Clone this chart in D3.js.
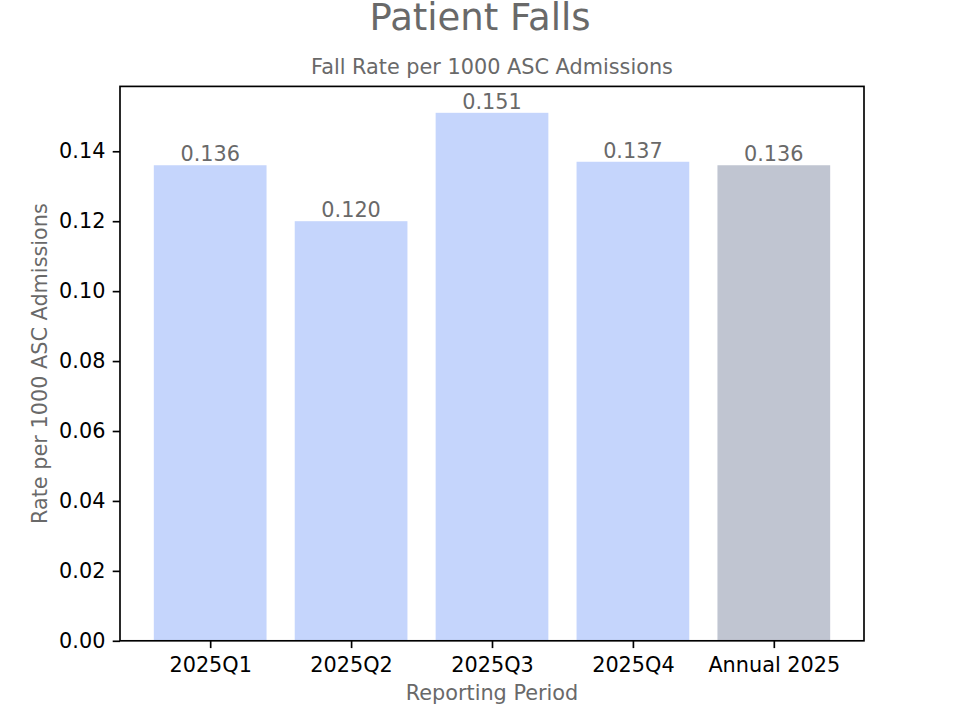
<!DOCTYPE html>
<html>
<head>
<meta charset="utf-8">
<script src="https://cdn.jsdelivr.net/npm/d3@7"></script>
<style>
  body { margin: 0; background: #fff; }
  text { font-family: "DejaVu Sans", sans-serif; }
</style>
</head>
<body>
<script>
// chart values
let periods = ['2025Q1', '2025Q2', '2025Q3', '2025Q4', 'Annual 2025'];
let rates = [0.136, 0.120, 0.151, 0.137, 0.136];
let barLabels = ['0.136', '0.120', '0.151', '0.137', '0.136'];
let yTicks = [0, 0.02, 0.04, 0.06, 0.08, 0.10, 0.12, 0.14];

let width = 960, height = 720;
let margin = { top: 86.4, right: 96, bottom: 79.2, left: 120 };
let quarterColor = '#c5d5fc';
let annualColor = '#c0c5d1';
let grey = '#696969';

let svg = d3.select('body').append('svg')
  .attr('width', width)
  .attr('height', height);

let plotW = width - margin.left - margin.right;
let plotH = height - margin.top - margin.bottom;

// matplotlib style: bars 0.8 wide with 5% margins
let idx = d3.range(periods.length);
let x = d3.scaleLinear()
  .domain([-0.4 - 0.24, periods.length - 1 + 0.4 + 0.24])
  .range([margin.left, margin.left + plotW]);

let y = d3.scaleLinear()
  .domain([0, d3.max(rates) * 1.05])
  .range([margin.top + plotH, margin.top]);

// bars
svg.append('g')
  .selectAll('rect')
  .data(idx)
  .enter()
  .append('rect')
  .attr('x', i => x(i - 0.4))
  .attr('width', i => x(i + 0.4) - x(i - 0.4))
  .attr('y', i => y(rates[i]))
  .attr('height', i => y(0) - y(rates[i]))
  .attr('fill', i => periods[i].startsWith('Annual') ? annualColor : quarterColor);

// value labels
svg.append('g')
  .selectAll('text')
  .data(idx)
  .enter()
  .append('text')
  .attr('x', i => x(i))
  .attr('y', i => y(rates[i]) - 4)
  .attr('text-anchor', 'middle')
  .attr('font-size', 20.8)
  .attr('fill', grey)
  .text(i => barLabels[i]);

// y axis
let yAxis = svg.append('g')
  .attr('transform', `translate(${margin.left},0)`)
  .call(d3.axisLeft(y)
    .tickValues(yTicks)
    .tickFormat(d3.format('.2f'))
    .tickSize(7.3)
    .tickPadding(7.3));
yAxis.select('.domain').remove();
yAxis.selectAll('line').attr('stroke', '#000').attr('stroke-width', 1.67);
yAxis.selectAll('text')
  .attr('font-size', 20.8)
  .attr('fill', '#000')
  .attr('font-family', '"DejaVu Sans", sans-serif');

// x axis
let xAxis = svg.append('g')
  .attr('transform', `translate(0,${margin.top + plotH})`)
  .call(d3.axisBottom(x)
    .tickValues(idx)
    .tickFormat(i => periods[i])
    .tickSize(7.3)
    .tickPadding(7.3));
xAxis.select('.domain').remove();
xAxis.selectAll('line').attr('stroke', '#000').attr('stroke-width', 1.67);
xAxis.selectAll('text')
  .attr('font-size', 20.8)
  .attr('fill', '#000')
  .attr('dy', null)
  .attr('y', 31)
  .attr('font-family', '"DejaVu Sans", sans-serif');

// frame
svg.append('rect')
  .attr('x', margin.left)
  .attr('y', margin.top)
  .attr('width', plotW)
  .attr('height', plotH)
  .attr('fill', 'none')
  .attr('stroke', '#000')
  .attr('stroke-width', 1.67);

// titles
svg.append('text')
  .attr('x', width / 2)
  .attr('y', 30)
  .attr('text-anchor', 'middle')
  .attr('font-size', 37)
  .attr('fill', grey)
  .text('Patient Falls');

svg.append('text')
  .attr('x', margin.left + plotW / 2)
  .attr('y', 74)
  .attr('text-anchor', 'middle')
  .attr('font-size', 20.8)
  .attr('fill', grey)
  .text('Fall Rate per 1000 ASC Admissions');

svg.append('text')
  .attr('x', margin.left + plotW / 2)
  .attr('y', 700)
  .attr('text-anchor', 'middle')
  .attr('font-size', 20.8)
  .attr('fill', grey)
  .text('Reporting Period');

svg.append('text')
  .attr('transform', `translate(47,${margin.top + plotH / 2}) rotate(-90)`)
  .attr('text-anchor', 'middle')
  .attr('font-size', 20.8)
  .attr('fill', grey)
  .text('Rate per 1000 ASC Admissions');
</script>
</body>
</html>
